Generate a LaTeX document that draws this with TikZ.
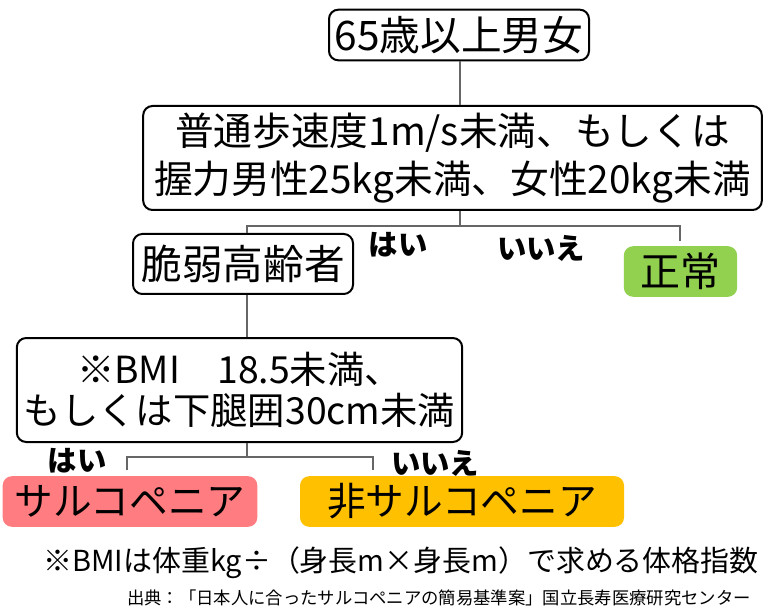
\documentclass[tikz,border=0pt]{standalone}
\usepackage{fontspec}
\setmainfont{Noto Sans CJK JP}
\definecolor{lnk}{HTML}{666666}
\definecolor{grn}{HTML}{92D050}
\definecolor{pnk}{HTML}{FF7C80}
\definecolor{org}{HTML}{FFC000}
\begin{document}
\begin{tikzpicture}[x=0.75pt,y=-0.75pt,
  box/.style={draw=black, line width=1.5pt, rounded corners=7pt, inner sep=0pt, align=center,
    font=\fontsize{30}{36}\selectfont},
  fbox/.style={rounded corners=7pt, inner sep=0pt, align=center, font=\fontsize{29}{34}\selectfont},
  conn/.style={draw=lnk, line width=1.1pt},
  lab/.style={inner sep=0pt, font=\bfseries\fontsize{22}{26}\selectfont}]
\useasboundingbox (0,0) rectangle (770,609);
\node[box, minimum width=195pt, minimum height=38pt, font=\fontsize{30.5}{36}\selectfont] (top) at (459,35) {65歳以上男女};
\node[box, minimum width=464pt, minimum height=78pt, font=\fontsize{29}{36}\selectfont] (big) at (452.5,158) {普通歩速度1m/s未満、もしくは\\握力男性25kg未満、女性20kg未満};
\node[box, minimum width=165pt, minimum height=45pt, font=\fontsize{30.5}{36}\selectfont] (frail) at (243,264) {脆弱高齢者};
\node[fbox, fill=grn, minimum width=85pt, minimum height=38pt, font=\fontsize{30}{36}\selectfont] (normal) at (680.5,271.5) {正常};
\node[box, minimum width=334pt, minimum height=78pt, font=\fontsize{28}{31}\selectfont] (bmi) at (239.5,390) {※BMI　18.5未満、\\もしくは下腿囲30cm未満};
\node[fbox, fill=pnk, minimum width=191pt, minimum height=38pt] (sarco) at (130,501.5) {サルコペニア};
\node[fbox, fill=org, minimum width=243pt, minimum height=38pt] (nonsarco) at (462,501.5) {非サルコペニア};
\node[lab] (yes1) at (398,245) {はい};
\node[lab] (no1) at (541,248) {いいえ};
\node[lab] (yes2) at (77,461) {はい};
\node[lab] (no2) at (435,463) {いいえ};
\node[inner sep=0pt, font=\fontsize{21.7}{26}\selectfont] (note) at (401,563) {※BMIは体重kg÷（身長m×身長m）で求める体格指数};
\node[inner sep=0pt, font=\fontsize{13}{15}\selectfont] (src) at (439,598) {出典：「日本人に合ったサルコペニアの簡易基準案」国立長寿医療研究センター};
% connectors
\coordinate (j1) at (460,226);
\coordinate (n1) at (680,241);
\coordinate (j2) at (247,457);
\coordinate (s2) at (127,470);
\coordinate (t2) at (373,470);
\draw[conn] (top.south -| j1) -- (big.north -| j1);
\draw[conn] (big.south -| j1) -- (j1);
\draw[conn] (frail.north -| j2) |- (j1) -| (n1);
\draw[conn] (frail.south -| j2) -- (bmi.north -| j2);
\draw[conn] (bmi.south -| j2) -- (j2);
\draw[conn] (s2) |- (j2) -| (t2);
\end{tikzpicture}
\end{document}
